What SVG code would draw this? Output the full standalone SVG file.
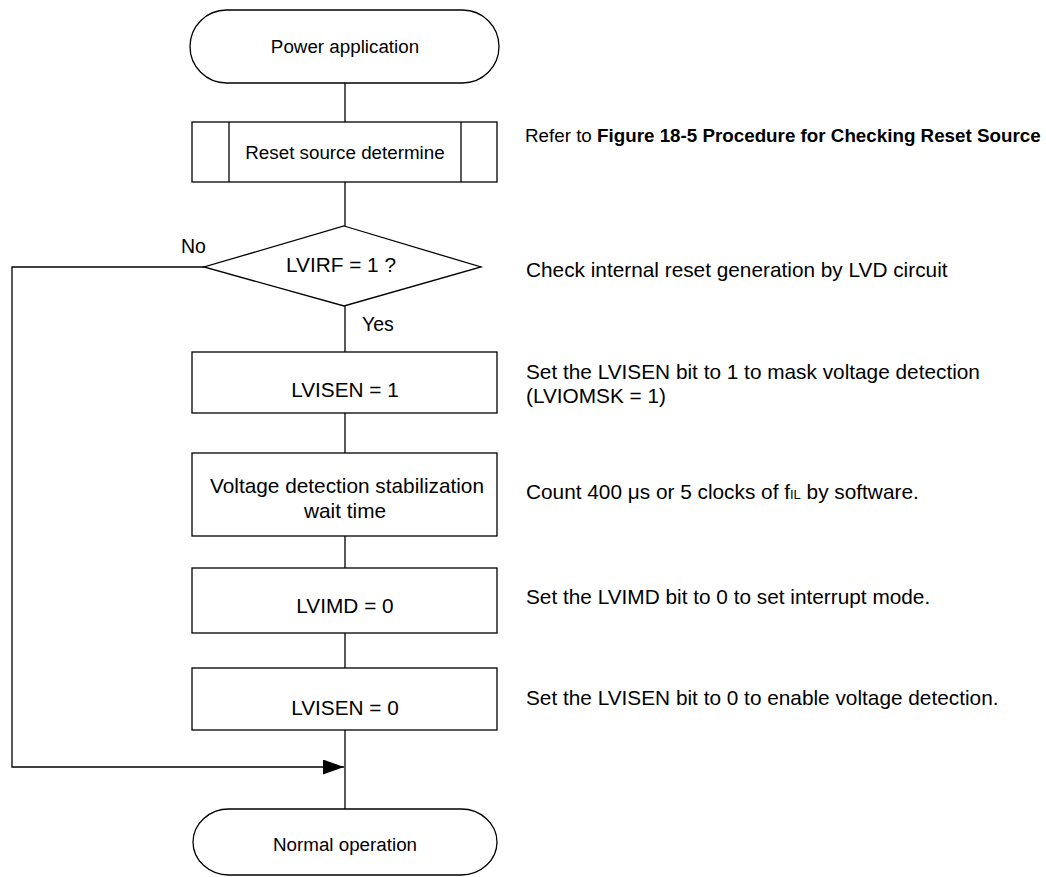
<svg xmlns="http://www.w3.org/2000/svg" width="1046" height="877" viewBox="0 0 1046 877">
<style>
.s{fill:#fff;stroke:#000;stroke-width:1.3}
.l{fill:none;stroke:#000;stroke-width:1.3}
.t{font-family:"Liberation Sans",Arial,sans-serif;font-size:18.8px;fill:#000}
.p{font-family:"Liberation Sans",Arial,sans-serif;font-size:20.8px;fill:#000}
.c{text-anchor:middle}
.n{font-family:"Liberation Sans",Arial,sans-serif;font-size:20.8px;fill:#000}
</style>
<defs>
<marker id="ah" markerWidth="22" markerHeight="16" refX="21" refY="7.5" orient="auto" markerUnits="userSpaceOnUse">
<path d="M0,0 L21,7.5 L0,15 Z" fill="#000"/>
</marker>
</defs>
<rect width="1046" height="877" fill="#fff"/>
<g id="connectors">
<line class="l" x1="345" y1="83" x2="345" y2="122"/>
<line class="l" x1="345" y1="182" x2="345" y2="226"/>
<line class="l" x1="345" y1="306" x2="345" y2="352"/>
<line class="l" x1="345" y1="413" x2="345" y2="453"/>
<line class="l" x1="345" y1="536" x2="345" y2="568"/>
<line class="l" x1="345" y1="633" x2="345" y2="668"/>
<line class="l" x1="345" y1="730" x2="345" y2="809"/>
<polyline class="l" points="204,267 12,267 12,767 344,767" marker-end="url(#ah)"/>
<text class="t" x="181" y="253" style="font-size:19.5px">No</text>
<text class="t" x="362" y="331" style="font-size:19.5px">Yes</text>
</g>
<g id="start">
<rect class="s" x="190" y="10" width="309" height="73" rx="36.5" ry="36.5"/>
<text class="t c" x="345" y="53">Power application</text>
</g>
<g id="reset">
<rect class="s" x="192" y="122" width="305" height="60"/>
<line class="l" x1="229" y1="122" x2="229" y2="182"/>
<line class="l" x1="461" y1="122" x2="461" y2="182"/>
<text class="t c" x="345" y="159">Reset source determine</text>
</g>
<g id="decision">
<polygon class="s" points="344,226 481,267 344,306 204,267"/>
<text class="p c" x="341" y="272">LVIRF = 1 ?</text>
</g>
<g id="lvisen1">
<rect class="s" x="192" y="352" width="305" height="61"/>
<text class="p c" x="345" y="397">LVISEN = 1</text>
</g>
<g id="wait">
<rect class="s" x="192" y="453" width="305" height="83"/>
<text class="p c" x="347" y="493">Voltage detection stabilization</text>
<text class="p c" x="345" y="518">wait time</text>
</g>
<g id="lvimd">
<rect class="s" x="192" y="568" width="305" height="65"/>
<text class="p c" x="345" y="613">LVIMD = 0</text>
</g>
<g id="lvisen0">
<rect class="s" x="192" y="668" width="305" height="62"/>
<text class="p c" x="345" y="715">LVISEN = 0</text>
</g>
<g id="end">
<rect class="s" x="193" y="809" width="304" height="66" rx="36" ry="33"/>
<text class="t c" x="345" y="851">Normal operation</text>
</g>
<g id="notes">
<text class="n" x="525" y="142" style="font-size:18.8px">Refer to <tspan font-weight="bold">Figure 18-5 Procedure for Checking Reset Source</tspan></text>
<text class="n" x="526" y="277">Check internal reset generation by LVD circuit</text>
<text class="n" x="526" y="379">Set the LVISEN bit to 1 to mask voltage detection</text>
<text class="n" x="526" y="403">(LVIOMSK = 1)</text>
<text class="n" x="526" y="499">Count 400 μs or 5 clocks of f<tspan font-size="13">IL</tspan> by software.</text>
<text class="n" x="526" y="604">Set the LVIMD bit to 0 to set interrupt mode.</text>
<text class="n" x="526" y="705">Set the LVISEN bit to 0 to enable voltage detection.</text>
</g>
</svg>
